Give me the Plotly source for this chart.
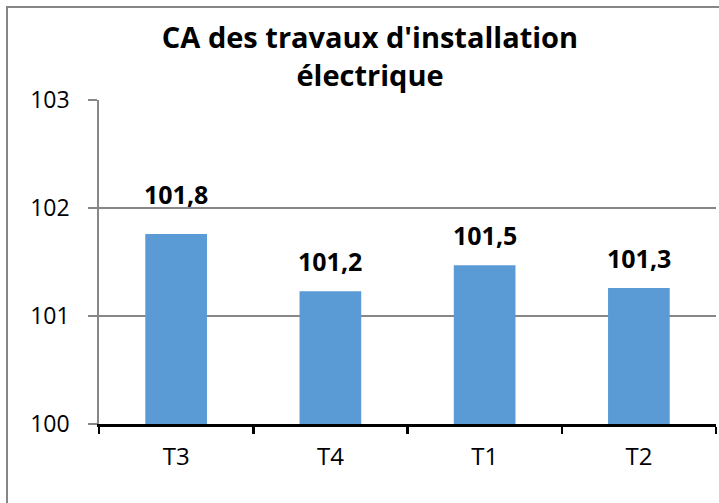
import plotly.graph_objects as go

categories = ["T3", "T4", "T1", "T2"]
values = [101.76, 101.23, 101.47, 101.26]
labels = ["101,8", "101,2", "101,5", "101,3"]
y_ticks = [100, 101, 102, 103]

W, H = 719, 503
L, R, T, B = 99, 3, 100, 79
pw, ph = W - L - R, H - T - B
FONT = "Open Sans"
label_shift = [21, 11, 11, 11]  # pixel gap between bar top and its value label

fig = go.Figure()
fig.add_trace(go.Bar(
    x=categories, y=values, marker=dict(color="#5B9BD5", line=dict(width=0)),
    width=0.4, showlegend=False, hoverinfo="skip",
))

for c, v, t, s in zip(categories, values, labels, label_shift):
    fig.add_annotation(x=c, y=v, text="<b>" + t + "</b>", showarrow=False, yanchor="bottom",
                       yshift=s, font=dict(family=FONT, size=25, color="#000000"),
                       xref="x", yref="y")

fig.update_layout(
    width=W, height=H,
    margin=dict(l=L, r=R, t=T, b=B),
    paper_bgcolor="white", plot_bgcolor="white",
    title=dict(text="<b>CA des travaux d'installation<br>électrique</b>",
               x=370 / W, xanchor="center", y=1 - 48 / H, yanchor="top",
               font=dict(family=FONT, size=29, color="#000000")),
    xaxis=dict(type="category", tickson="boundaries", showline=True, linecolor="#000000",
               linewidth=2.5, ticks="outside", ticklen=7, tickwidth=2.5, tickcolor="#000000",
               tickfont=dict(family=FONT, size=24, color="#000000"), showgrid=False,
               range=[-0.5, 3.5], fixedrange=True, ticklabelstandoff=10, automargin=False),
    yaxis=dict(range=[100, 103], tickvals=y_ticks, ticktext=[str(v) for v in y_ticks],
               showline=True, linecolor="#878787", linewidth=1.8,
               ticks="outside", ticklen=9, tickwidth=1.8, tickcolor="#878787",
               showgrid=True, gridcolor="#878787", gridwidth=1.8, zeroline=False,
               tickfont=dict(family=FONT, size=23, color="#000000"), ticklabelstandoff=14,
               automargin=False, fixedrange=True),
)

# chart area border (extends past the cropped right and bottom edges)
fig.add_shape(type="rect", xref="paper", yref="paper",
              x0=(7 - L) / pw, x1=(W + 30 - L) / pw,
              y0=-(B + 30) / ph, y1=(H - B - 7) / ph,
              line=dict(color="#868686", width=2), layer="below")

fig.write_html("out.html", config={"displayModeBar": False, "staticPlot": True},
               post_script="document.body.style.margin='0';document.body.style.overflow='hidden';")
